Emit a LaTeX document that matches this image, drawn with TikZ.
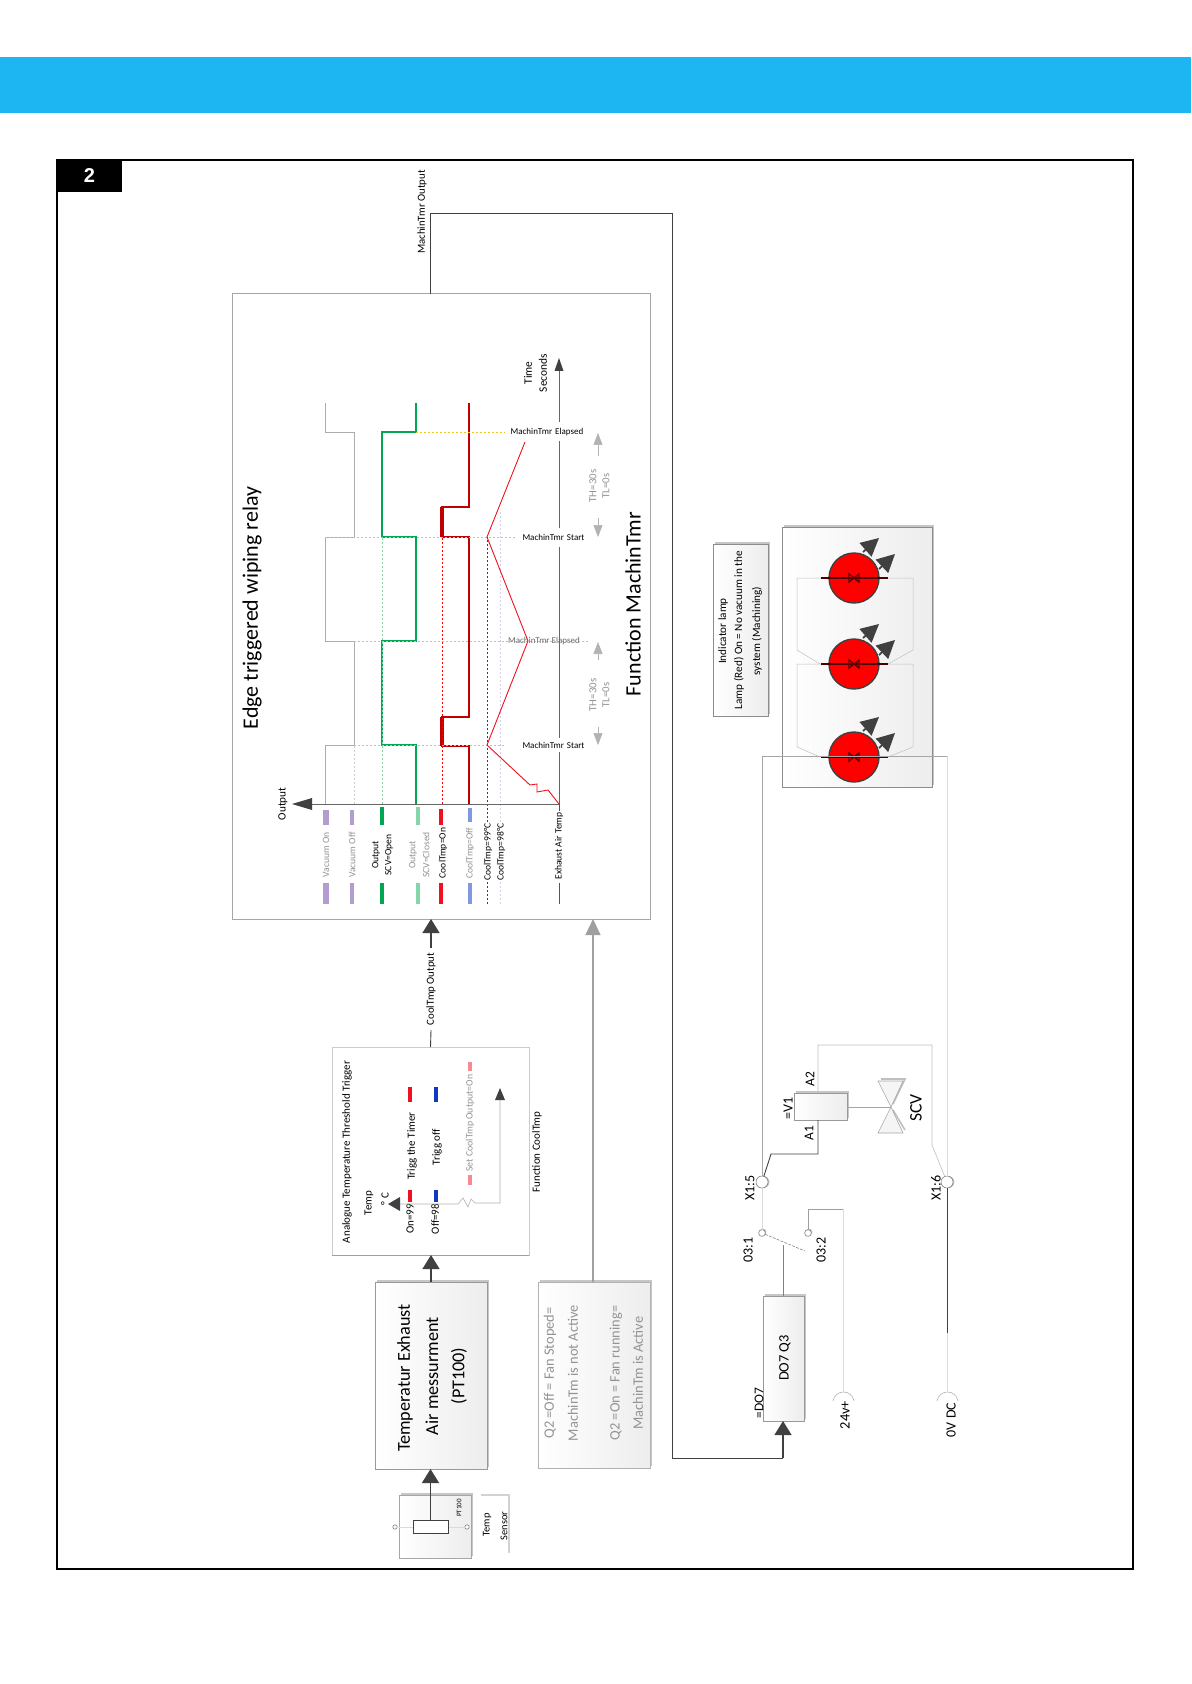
\documentclass[tikz,border=0pt]{standalone}
\usepackage{fontspec}
\setmainfont{Carlito}
\newfontfamily\arialf{Liberation Sans}
\usetikzlibrary{arrows.meta,shadows,calc}
\definecolor{hdr}{HTML}{1DB6F3}
\definecolor{dk}{HTML}{404040}
\definecolor{lav}{HTML}{B39DD0}
\definecolor{grn}{HTML}{00A651}
\definecolor{lgrn}{HTML}{85D5A8}
\definecolor{dred}{HTML}{C00000}
\definecolor{bred}{HTML}{F01020}
\definecolor{lblu}{HTML}{7F98E0}
\definecolor{dblu}{HTML}{1038C0}
\definecolor{pnk}{HTML}{F58A90}
\definecolor{yel}{HTML}{F5C518}
\newcommand{\fsz}[1]{\fontsize{#1}{#1}\selectfont}
\tikzset{
  x=0.5pt,y=-0.5pt,
  rt/.style={rotate=90,inner sep=0pt,outer sep=0pt,align=center,font=\fsz{4.8}},
  gt/.style={rt,text=gray!85},
  hz/.style={inner sep=0pt,outer sep=0pt,font=\fsz{4.5}},
  plainbox/.style={inner sep=0pt,outer sep=0pt,draw=gray!70,line width=0.5pt,fill=white},
  gbox/.style={inner sep=0pt,outer sep=0pt,draw=gray,line width=0.45pt,left color=white,right color=gray!14,
     copy shadow={shadow xshift=1.2pt,shadow yshift=1.2pt,draw=none,fill=gray!45}},
  bigarrow/.style={-{Triangle[width=8.5pt,length=7pt]},color=dk,line width=0.7pt},
  greyarrow/.style={-{Triangle[width=7.5pt,length=8pt]},color=gray!75,line width=0.6pt},
  smallgrey/.style={-{Triangle[width=4.5pt,length=6pt]},color=gray!60,line width=0.3pt},
  wire/.style={line width=0.35pt,color=gray!75},
  faint/.style={line width=0.3pt,color=gray!28},
  darkwire/.style={line width=0.45pt,color=dk},
  ringc/.style={circle,inner sep=0pt,outer sep=0pt,draw=gray,line width=0.3pt,fill=white},
  lampc/.style={circle,inner sep=0pt,outer sep=0pt,draw=dk,line width=0.7pt,fill=red,minimum size=25pt},
  lamparrow/.style={-{Triangle[width=9pt,length=9pt]},color=dk,line width=0.9pt},
  ydot/.style={color=yel,line width=0.4pt,dash pattern=on 1pt off 1pt},
  cirtxt/.style={rt,font=\fsz{7}},
  cooltxt/.style={rt,font=\fsz{5.5}},
}
\begin{document}
\begin{tikzpicture}
\useasboundingbox (0,0) rectangle (1191,1684);
% header and frame
\fill[hdr] (0,57) rectangle (1191,113);
\node[draw=black,line width=0.9pt,minimum width=538pt,minimum height=704.5pt,inner sep=0pt,outer sep=0pt] (frame) at (595,864.5) {};
\node[fill=black,text=white,minimum width=32.5pt,minimum height=16pt,inner sep=0pt,outer sep=0pt,font=\arialf\bfseries\fsz{10}] (tab) at (89.5,176) {2};

% --- main chart box
\node[plainbox,minimum width=209pt,minimum height=312.5pt] (chart) at (441,606.5) {};
\coordinate (tr) at (672,213);
\coordinate (tl) at (430.5,213);
\coordinate (br) at (672,1458);
\coordinate (bl) at (783,1458);

% chart traces
\draw[color=gray!65,line width=0.45pt] (325,804)--(325,745)--(354,745)--(354,641)--(325,641)--(325,537)--(354,537)--(354,432)--(325,432)--(325,403);
\draw[color=grn,line width=0.6pt] (416,804)--(416,745)--(382,745)--(382,641)--(416,641)--(416,537)--(382,537)--(382,432)--(416,432)--(416,403);
\draw[color=dred,line width=0.95pt] (469,804)--(469,746)--(442,746)--(442,717)--(469,717)--(469,537)--(442,537)--(442,507)--(469,507)--(469,403);
\draw[color=dred,line width=1.6pt] (442,746)--(442,717);
\draw[color=dred,line width=1.6pt] (442,537)--(442,507);
\draw[color=gray!40,line width=0.3pt,dash pattern=on 1pt off 1pt] (354,804)--(354,745);
\draw[color=lgrn,line width=0.3pt,dash pattern=on 1pt off 1pt] (382,804)--(382,537);
\draw[color=red,line width=0.4pt,dash pattern=on 1pt off 1pt] (442,804)--(442,537);
\draw[color=red!85!black,line width=0.4pt,dash pattern=on 1pt off 1pt] (487,822)--(487,537);
\draw[color=red!85!black,line width=0.4pt,dash pattern=on 1pt off 1pt] (487,904)--(487,880);
\draw[color=lav!50,line width=0.5pt,dash pattern=on 1pt off 1pt] (500,822)--(500,510);
\draw[color=lav!50,line width=0.5pt,dash pattern=on 1pt off 1pt] (500,904)--(500,880);
\draw[ydot] (354,745)--(505,745);
\draw[ydot] (354,641)--(588,641);
\draw[ydot] (325,537)--(515,537);
\draw[ydot] (416,432)--(505,432);
% axes
\coordinate (origin) at (559,804);
\coordinate (xtip) at (559,371);
\coordinate (ytip) at (312,804);
\draw[color=gray!80!black,line width=0.45pt] (origin)--(xtip);
\draw[color=gray!80!black,line width=0.45pt] (origin)--(ytip);
\fill[dk] (292,804)--(312,798)--(312,810)--cycle;
\fill[dk] (559,358)--(554.5,371)--(563.5,371)--cycle;
% exhaust temp
\draw[color=bred,line width=0.45pt] (559,804)--(548,790)--(537,792)--(537,784)--(530,785)--(487,745)--(528,641)--(487,537)--(525,442);
% grey time arrows
\coordinate (a1) at (598,456); \coordinate (a2) at (598,433);
\coordinate (a3) at (598,518); \coordinate (a4) at (598,537);
\coordinate (a5) at (598,660); \coordinate (a6) at (598,642);
\coordinate (a7) at (598,727); \coordinate (a8) at (598,745);
\draw[smallgrey] (a1)--(a2);
\draw[smallgrey] (a3)--(a4);
\draw[smallgrey] (a5)--(a6);
\draw[smallgrey] (a7)--(a8);
% chart labels
\node[hz,fill=white,minimum height=9.5pt,text width=39pt,align=center] (el1) at (547,432) {MachinTmr Elapsed};
\node[hz,fill=white,minimum height=9.5pt,text width=34pt,align=center] (st1) at (553.5,537) {MachinTmr Start};
\node[hz,text=gray!85!black] (el2) at (544,641) {MachinTmr Elapsed};
\node[hz,fill=white,minimum height=7pt,text width=34pt,align=center] (st2) at (553.5,745) {MachinTmr Start};
\node[gt,font=\fsz{5.4}] (th1) at (593,486) {TH=30s};
\node[gt,font=\fsz{5.4}] (tl1) at (606,486) {TL=0s};
\node[gt,font=\fsz{5.4}] (th2) at (593,695) {TH=30s};
\node[gt,font=\fsz{5.4}] (tl2) at (606,695) {TL=0s};
\node[rt,font=\fsz{5.7}] (time) at (528,373) {Time};
\node[rt,font=\fsz{5.7}] (secs) at (543,373) {Seconds};
\node[rt,font=\fsz{5.6}] (outp) at (283,804) {Output};
\node[rt,font=\fsz{11}] (title1) at (252,608) {Edge triggered wiping relay};
\node[rt,font=\fsz{11}] (title2) at (633,604) {Function MachinTmr};
% legend
\foreach \xx/\cc/\w/\aa/\bb in {326/lav/2.6/810/825,352/lav/2.3/810/825,382/grn/2/807/825,418/lgrn/2.2/807/825,441/bred/2/809/825,470/lblu/2/808/822}{
  \draw[color=\cc,line width=\w pt] (\xx,\aa)--(\xx,\bb);
  \draw[color=\cc,line width=\w pt] (\xx,883)--(\xx,904);
}
\draw[color=bred,line width=0.5pt] (559,804)--(559,811);
\draw[color=bred,line width=0.5pt] (559,883)--(559,904);
\node[gt] (lv1) at (326,855) {Vacuum On};
\node[gt] (lv2) at (352,855) {Vacuum Off};
\node[rt] (lo1) at (376,855) {Output};
\node[rt] (lo2) at (389,855) {SCV=Open};
\node[gt] (lc1) at (413,855) {Output};
\node[gt] (lc2) at (426,855) {SCV=Closed};
\node[rt] (lct1) at (443,853) {CoolTmp=On};
\node[gt] (lct2) at (470,853) {CoolTmp=Off};
\node[rt] (l99) at (488,852) {CoolTmp=99°C};
\node[rt] (l98) at (501,852) {CoolTmp=98°C};
\node[rt] (lex) at (559,846) {Exhaust Air Temp};

% --- CoolTmp function box
\node[plainbox,draw=gray!40,minimum width=98.5pt,minimum height=104pt] (cool) at (430.5,1151) {};
\draw[gray!75,line width=0.5pt] (cool.south west)--(cool.south east);
\node[cooltxt] (cootit) at (347,1152) {Analogue Temperature Threshold Trigger};
\node[cooltxt] (ctemp) at (369,1203) {Temp};
\node[cooltxt] (cdeg) at (385,1199) {° C};
\node[cooltxt] (on99) at (410,1219) {On=99};
\node[cooltxt] (off98) at (435,1219) {Off=98};
\node[cooltxt] (trg1) at (412,1146) {Trigg the Timer};
\node[cooltxt] (trg2) at (437,1147) {Trigg off};
\node[gt,font=\fsz{4.9}] (setc) at (470,1123) {Set CoolTmp Output=On};
\node[cooltxt] (fcool) at (537,1152) {Function CoolTmp};
\draw[color=gray!60,line width=0.3pt] (400,1204)--(458,1204)--(463,1198)--(468,1207)--(471,1199)--(475,1203)--(500,1203)--(500,1095);
\fill[dk] (388,1204)--(400,1197)--(400,1211)--cycle;
\fill[dk] (500,1088)--(495,1100)--(505,1100)--cycle;
\foreach \xx/\cc in {410/bred,436/dblu}{
  \draw[color=\cc,line width=2pt] (\xx,1087)--(\xx,1102);
  \draw[color=\cc,line width=2pt] (\xx,1190)--(\xx,1202);
}
\draw[color=pnk,line width=2.2pt] (470,1062)--(470,1071);
\draw[color=pnk,line width=2.2pt] (470,1175)--(470,1185);

% --- Temperature box
\node[gbox,minimum width=56pt,minimum height=93.5pt,draw=gray!80] (temp) at (431,1375.5) {};
\node[rt,font=\fsz{9.1}] (t1) at (405,1378) {Temperatur Exhaust};
\node[rt,font=\fsz{9.1}] (t2) at (432,1376) {Air messurment};
\node[rt,font=\fsz{9.1}] (t3) at (459,1376) {(PT100)};

% --- Q2 box
\node[gbox,minimum width=56pt,minimum height=93pt,draw=gray!60] (q2) at (594,1375) {};
\node[gt,font=\fsz{7.2}] (q1l) at (550,1373) {Q2 =Off = Fan Stoped=};
\node[gt,font=\fsz{7.2}] (q2l) at (573,1373) {MachinTm is not Active};
\node[gt,font=\fsz{7.2}] (q3l) at (616,1373) {Q2 =On = Fan running=};
\node[gt,font=\fsz{7.2}] (q4l) at (638,1373) {MachinTm is Active};

% --- sensor
\node[gbox,minimum width=36pt,minimum height=31.5pt,draw=gray!70] (sens) at (435,1526.5) {};
\node[ringc,minimum size=2.2pt] (s1) at (395,1527) {};
\node[ringc,minimum size=2.2pt] (s2) at (467,1527) {};
\draw[faint] (s1)--(s2);
\node[draw=dk,line width=0.4pt,fill=white,inner sep=0pt,outer sep=0pt,minimum width=17.5pt,minimum height=6.5pt] (res) at (430.5,1526.5) {};
\node[rt,font=\fsz{3.5}] (pt) at (459,1508) {PT100};
\draw[color=gray!35,line width=1pt] (481,1495)--(509,1495)--(509,1553);
\node[rt,font=\fsz{5.2}] (ts1) at (487,1525) {Temp};
\node[rt,font=\fsz{5.2}] (ts2) at (504,1526) {Sensor};

% --- block connectors
\draw[bigarrow] (res.north)--(res.north |- temp.south);
\draw[bigarrow] (temp.north)--(temp.north |- cool.south);
\draw[greyarrow] (593,1282)--(593,919);
\node[rt,font=\fsz{5.4},outer sep=2.5pt] (cout) at (431,989) {CoolTmp Output};
\draw[darkwire] (cool.north)--(cout.west);
\draw[bigarrow] (cout.east)--(cout.east |- chart.south);

% MachinTmr output line
\draw[darkwire] (tl |- chart.north)--(tl)--(tr)--(br)--(bl);
\node[rt,font=\fsz{5.4}] (mout) at (422,212) {MachinTmr Output};

% --- DO7 and circuit
\node[gbox,minimum width=20.5pt,minimum height=62.5pt,draw=gray!80] (do7) at (783.5,1358.5) {};
\draw[bigarrow] (bl)--(bl |- do7.south);
\node[rt,font=\fsz{7.2}] (do7t) at (785,1358) {DO7 Q3};
\node[rt,font=\fsz{6.7}] (do7l) at (759,1403) {=DO7};
\node[ringc,minimum size=3.4pt,
  copy shadow={shadow xshift=0.5pt,shadow yshift=0.5pt,draw=none,fill=gray!50}] (c31) at (762,1233) {};
\node[ringc,minimum size=3.4pt,
  copy shadow={shadow xshift=0.5pt,shadow yshift=0.5pt,draw=none,fill=gray!50}] (c32) at (808,1233) {};
\node[ringc,minimum size=6pt,
  copy shadow={shadow xshift=0.7pt,shadow yshift=0pt,draw=none,fill=gray!50}] (x15) at (762,1182) {};
\node[ringc,minimum size=6pt,
  copy shadow={shadow xshift=0.7pt,shadow yshift=0pt,draw=none,fill=gray!50}] (x16) at (947,1182) {};
\coordinate (sw) at (783,1245);
\coordinate (swe) at (805,1251);
\draw[color=gray,line width=0.3pt] (do7.north -| sw)--(sw);
\draw[color=gray,line width=0.3pt,dash pattern=on 1.4pt off 0.7pt] (c31)--(swe);
\draw[faint] (c31)--(x15);
\coordinate (c24) at (843,1209);
\coordinate (top24) at (843,1392);
\draw[wire] (c32)--(c32 |- c24)--(c24);
\draw[faint] (c24)--(top24);
\draw[color=gray!60,line width=0.3pt] (833,1401) .. controls (835,1389) and (852,1389) .. (854,1401);
\node[cirtxt,font=\fsz{7.2}] (v24) at (845,1415) {24v+};
\coordinate (top0) at (947,1392);
\coordinate (mid0) at (947,1333);
\draw[color=gray!60,line width=0.3pt] (937,1401) .. controls (939,1389) and (956,1389) .. (958,1401);
\draw[faint] (top0)--(mid0);
\draw[darkwire] (mid0)--(x16);
\node[cirtxt] (v0) at (951,1420) {0V DC};
\node[gbox,minimum width=26.5pt,minimum height=13.5pt,draw=gray!80] (v1) at (820.5,1106.5) {};
\coordinate (a1w) at (818,1154);
\coordinate (a1d) at (771,1154);
\coordinate (a2r) at (818,1045);
\coordinate (a2c) at (932,1045);
\coordinate (a2d) at (932,1145);
\draw[darkwire] (x15)--(a1d)--(a1w)--(a1w |- v1.south);
\draw[color=gray!50,line width=0.3pt] (x16)--(a2d)--(a2c)--(a2r)--(a2r |- v1.north);
\coordinate (vc) at (891,1107);
\draw[color=gray!50,line width=0.8pt] (881,1079)--(905,1079)--(893,1104);
\draw[color=gray!50,line width=0.8pt] (905,1130)--(893,1110);
\draw[color=gray!70,line width=0.3pt,fill=gray!8] (878,1081)--(903,1081)--(vc)--cycle;
\draw[color=gray!70,line width=0.3pt,fill=gray!8] (878,1133)--(903,1133)--(vc)--cycle;
\draw[color=gray!70,line width=0.35pt] (v1.east |- vc)--(vc);
\node[rt,font=\fsz{8.8}] (scv) at (916,1108) {SCV};
\node[rt,font=\fsz{6.7}] (la1) at (809,1133) {A1};
\node[rt,font=\fsz{6.7}] (la2) at (810,1079) {A2};
\node[cirtxt] (lv) at (788,1108) {=V1};
\node[cirtxt] (lx5) at (750,1188) {X1:5};
\node[cirtxt] (lx6) at (936,1188) {X1:6};
\node[cirtxt] (l31) at (748,1250) {03:1};
\node[cirtxt] (l32) at (821,1250) {03:2};

% --- indicator
\node[gbox,minimum width=27.5pt,minimum height=86pt,draw=gray!90] (ind) at (740.5,630) {};
\node[rt,font=\fsz{5.6}] (i1) at (723,631) {Indicator lamp};
\node[rt,font=\fsz{5.6}] (i2) at (739,630) {Lamp (Red) On = No vacuum in the};
\node[rt,font=\fsz{5.6}] (i3) at (757,631) {system (Machining)};
\node[gbox,minimum width=75pt,minimum height=130pt,draw=gray!90] (lampbox) at (857,657) {};
\draw[color=gray!50,line width=0.25pt] (821,578)--(797,578)--(797,650)--(820,664);
\draw[color=gray!50,line width=0.25pt] (888,578)--(913,578)--(913,650)--(888,664);
\draw[color=gray!50,line width=0.25pt] (821,664)--(797,664)--(797,747)--(820,757);
\draw[color=gray!50,line width=0.25pt] (888,664)--(913,664)--(913,747)--(888,757);
\foreach \i/\yy in {1/578,2/664,3/757}{
  \node[lampc] (lamp\i) at (854,\yy) {};
  \draw[color=black!70!red,line width=1pt] (821,\yy)--(888,\yy);
  \draw[color=black!60!red,line width=0.7pt] (849,\yy-4)--(849,\yy+4)--(859,\yy-4)--(859,\yy+4)--cycle;
  \draw[lamparrow] (863,\yy-26)--(879,\yy-40);
  \draw[lamparrow] (879,\yy-9)--(895,\yy-24);
}
% X1:5 to X1:6 via lamps
\coordinate (lt) at (762,756);
\coordinate (rt1) at (947,756);
\draw[color=gray!70,line width=0.4pt] (x15)--(lt)--(rt1);
\draw[faint] (rt1)--(x16);
\end{tikzpicture}
\end{document}
